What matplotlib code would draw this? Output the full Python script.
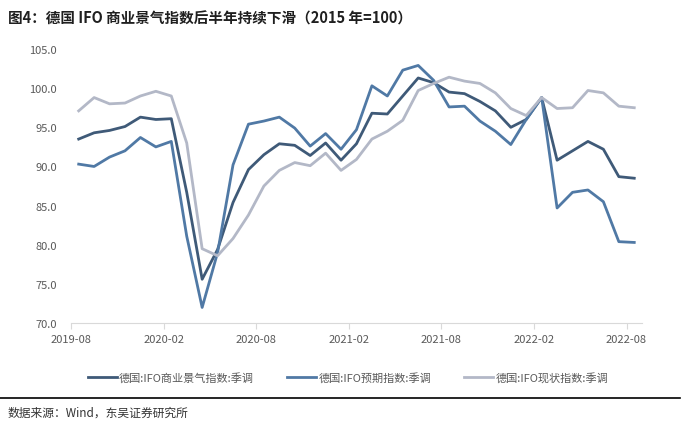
import matplotlib
matplotlib.use("Agg")
import matplotlib.pyplot as plt
import numpy as np

plt.rcParams['font.family'] = ['Noto Sans CJK SC', 'DejaVu Sans']

months = ['2019-08', '2019-09', '2019-10', '2019-11', '2019-12', '2020-01', '2020-02',
          '2020-03', '2020-04', '2020-05', '2020-06', '2020-07', '2020-08', '2020-09',
          '2020-10', '2020-11', '2020-12', '2021-01', '2021-02', '2021-03', '2021-04',
          '2021-05', '2021-06', '2021-07', '2021-08', '2021-09', '2021-10', '2021-11',
          '2021-12', '2022-01', '2022-02', '2022-03', '2022-04', '2022-05', '2022-06',
          '2022-07', '2022-08']

# 德国 IFO 商业景气指数
klima = [93.5, 94.3, 94.6, 95.1, 96.3, 96.0, 96.1, 86.7, 75.6, 79.4, 85.4, 89.6, 91.5,
         92.9, 92.7, 91.4, 93.0, 90.8, 92.9, 96.8, 96.7, 99.0, 101.3, 100.7, 99.5, 99.3,
         98.3, 97.1, 95.0, 96.0, 98.8, 90.8, 92.0, 93.2, 92.2, 88.7, 88.5]
# 预期指数
erwart = [90.3, 90.0, 91.2, 92.0, 93.7, 92.5, 93.2, 81.1, 72.0, 79.0, 90.2, 95.4, 95.8,
          96.3, 94.9, 92.6, 94.2, 92.2, 94.7, 100.3, 99.0, 102.3, 102.9, 101.0, 97.6, 97.7,
          95.8, 94.5, 92.8, 96.0, 98.8, 84.7, 86.7, 87.0, 85.5, 80.4, 80.3]
# 现状指数
lage = [97.1, 98.8, 98.0, 98.1, 99.0, 99.6, 99.0, 93.0, 79.5, 78.6, 80.8, 83.8, 87.5,
        89.5, 90.5, 90.1, 91.7, 89.5, 90.9, 93.5, 94.5, 95.9, 99.7, 100.6, 101.4, 100.9,
        100.6, 99.4, 97.4, 96.5, 98.8, 97.4, 97.5, 99.7, 99.4, 97.7, 97.5]

names = ['德国:IFO商业景气指数:季调', '德国:IFO预期指数:季调', '德国:IFO现状指数:季调']
colors = ['#3F5A78', '#5079A5', '#B3B8C7']

fig = plt.figure(figsize=(7, 4.31), dpi=100)
ax = fig.add_axes([0.1014, 0.248, 0.8157, 0.636])

x = np.arange(len(months)) + 0.5
for vals, nm, c in zip([klima, erwart, lage], names, colors):
    ax.plot(x, vals, color=c, lw=2.0, label=nm)

ax.set_xlim(0, len(months))
ax.set_ylim(70, 105)
ax.set_yticks(np.arange(70, 105.1, 5))
ax.set_yticklabels(['%.1f' % v for v in np.arange(70, 105.1, 5)])
tick_pos = list(range(0, len(months), 6))
ax.set_xticks(tick_pos)
ax.set_xticklabels([months[i] for i in tick_pos])

for s in ['top', 'right', 'left']:
    ax.spines[s].set_visible(False)
ax.spines['bottom'].set_color('#D9D9D9')
ax.tick_params(axis='y', length=0, labelsize=8, labelcolor='#595959', pad=10)
ax.tick_params(axis='x', length=4, color='#D9D9D9', labelsize=8, labelcolor='#595959')

ax.legend(loc='upper center', bbox_to_anchor=(0.485, -0.14), ncol=3, frameon=False,
          fontsize=8, labelcolor='#595959', handlelength=2.6, columnspacing=3.0,
          handletextpad=0.2)

fig.text(0.011, 0.958, '图4：德国 IFO 商业景气指数后半年持续下滑（2015 年=100）',
         fontsize=10.5, fontweight='bold', color='#1F1F1F', va='center')
fig.add_artist(plt.Line2D([0.0, 0.972], [0.074, 0.074], color='black', lw=1.2,
                          transform=fig.transFigure))
fig.text(0.011, 0.042, '数据来源：Wind，东吴证券研究所', fontsize=8.5, color='#333333',
         va='center')

fig.savefig('out.png', dpi=100)
